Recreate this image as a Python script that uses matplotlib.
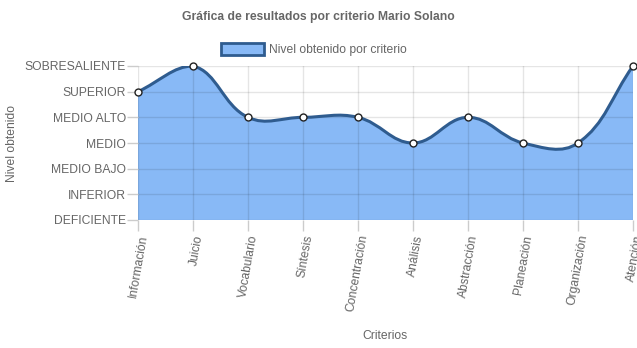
import numpy as np
import matplotlib
matplotlib.use("Agg")
import matplotlib.pyplot as plt
from matplotlib.path import Path
from matplotlib.patches import PathPatch, Patch

plt.rcParams['font.family'] = ['Liberation Sans', 'DejaVu Sans']

criterios = ['Información', 'Juicio', 'Vocabulario', 'Síntesis', 'Concentración',
             'Análisis', 'Abstracción', 'Planeación', 'Organización', 'Atención']
niveles = ['DEFICIENTE', 'INFERIOR', 'MEDIO BAJO', 'MEDIO', 'MEDIO ALTO',
           'SUPERIOR', 'SOBRESALIENTE']
valores = [5, 6, 4, 4, 4, 3, 4, 3, 3, 6]

W, H = 637, 348
fig = plt.figure(figsize=(W / 100, H / 100), dpi=100)
left, right, top, bottom = 138, 633, 66, 220
ax = fig.add_axes([left / W, 1 - bottom / H, (right - left) / W, (bottom - top) / H])

n = len(valores)
xs = np.arange(n, dtype=float)
ys = np.array(valores, dtype=float)
ax.set_xlim(0, n - 1)
ax.set_ylim(0, len(niveles) - 1)

# cardinal spline like chart.js (tension 0.4), computed in pixel space
sx = (right - left) / (n - 1)
sy = (bottom - top) / (len(niveles) - 1)
px, py = xs * sx, ys * sy
t = 0.4
cps = []
for i in range(n):
    a = max(i - 1, 0)
    c = min(i + 1, n - 1)
    d01 = np.hypot(px[i] - px[a], py[i] - py[a])
    d12 = np.hypot(px[c] - px[i], py[c] - py[i])
    s01 = d01 / (d01 + d12) if d01 + d12 else 0
    s12 = d12 / (d01 + d12) if d01 + d12 else 0
    fa, fb = t * s01, t * s12
    prev = (px[i] - fa * (px[c] - px[a]), py[i] - fa * (py[c] - py[a]))
    nxt = (px[i] + fb * (px[c] - px[a]), py[i] + fb * (py[c] - py[a]))
    cps.append((prev, nxt))

verts = [(xs[0], ys[0])]
codes = [Path.MOVETO]
for i in range(n - 1):
    c1 = cps[i][1]
    c2 = cps[i + 1][0]
    verts += [(c1[0] / sx, min(c1[1] / sy, 6)), (c2[0] / sx, min(c2[1] / sy, 6)), (xs[i + 1], ys[i + 1])]
    codes += [Path.CURVE4] * 3

line_path = Path(verts, codes)
fill_path = Path(verts + [(xs[-1], 0), (xs[0], 0), (xs[0], ys[0])],
                 codes + [Path.LINETO, Path.LINETO, Path.CLOSEPOLY])

ax.add_patch(PathPatch(fill_path, facecolor='#88b9f6', edgecolor='none', zorder=1))
ax.add_patch(PathPatch(line_path, facecolor='none', edgecolor='#2f5c8f', lw=2.2, zorder=3))
ax.plot(xs, ys, 'o', ms=5, mfc='white', mec='#222222', mew=1, zorder=4, clip_on=False)

ax.set_yticks(range(len(niveles)))
ax.set_yticklabels(niveles)
ax.set_xticks(xs)
ax.set_xticklabels(criterios, rotation=80, ha='right', va='top', rotation_mode='anchor')
ax.grid(True, color='#000000', alpha=0.1, lw=1, zorder=2)
ax.set_axisbelow(False)
for s in ax.spines.values():
    s.set_visible(False)
ax.tick_params(axis='both', colors='#cccccc', labelcolor='#666666', labelsize=8.7,
               length=8, width=1)
ax.tick_params(axis='x', pad=2)
ax.tick_params(axis='y', pad=0.5)

fig.text(12 / W, 1 - 143 / H, 'Nivel obtenido', rotation=90, ha='center', va='center',
         color='#666666', fontsize=8.7)
fig.text(385 / W, 1 - 336 / H, 'Criterios', ha='center', va='center',
         color='#666666', fontsize=8.7)
fig.text(318 / W, 1 - 17 / H, 'Gráfica de resultados por criterio Mario Solano',
         ha='center', va='center', color='#666666', fontsize=8.7, weight='bold')

leg = fig.legend(handles=[Patch(facecolor='#88b9f6', edgecolor='#2f5c8f', lw=2,
                                label='Nivel obtenido por criterio')],
                 loc='center', bbox_to_anchor=(314 / W, 1 - 49.5 / H), frameon=False,
                 fontsize=8.7, handlelength=3.6, handleheight=1.1, handletextpad=0.4,
                 borderpad=0)
for txt in leg.get_texts():
    txt.set_color('#666666')

fig.savefig('out.png', dpi=100)
